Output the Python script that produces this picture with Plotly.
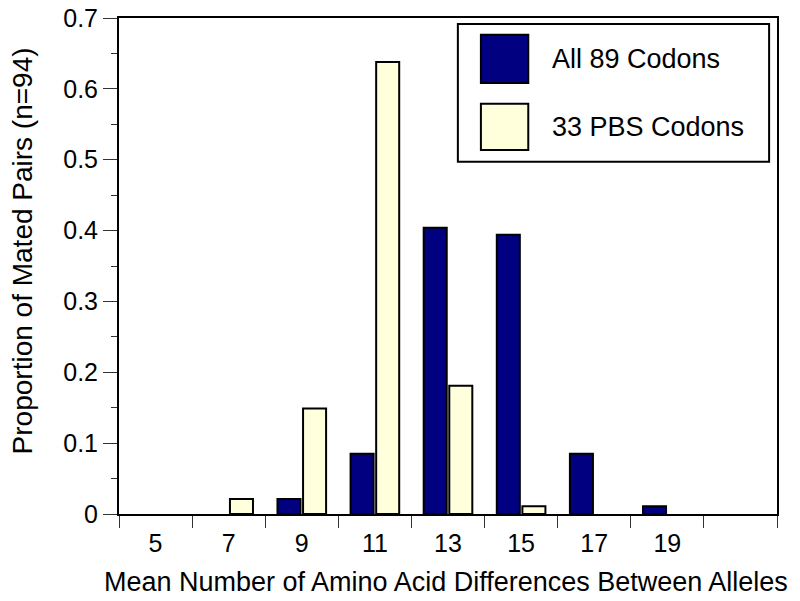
import plotly.graph_objects as go

# mean number of amino acid differences (bin centres)
bins = [5, 7, 9, 11, 13, 15, 17, 19, 21]
tick_labels = ["5", "7", "9", "11", "13", "15", "17", "19"]

series_names = ["All 89 Codons", "33 PBS Codons"]
all_codons = [0, 0, 0.021, 0.085, 0.404, 0.394, 0.085, 0.011, 0]
pbs_codons = [0, 0.021, 0.149, 0.638, 0.181, 0.011, 0, 0, 0]

colors = ["#000080", "#FFFFDC"]
font = "Liberation Sans, Arial, Helvetica, sans-serif"

fig = go.Figure()
for name, vals, col in zip(series_names, [all_codons, pbs_codons], colors):
    fig.add_trace(go.Bar(
        x=bins, y=[v if v > 0 else None for v in vals], name=name,
        marker=dict(color=col, line=dict(color="black", width=2)),
        showlegend=False,
    ))

# page body has an 8px margin, so the figure is shrunk by that much
fig.update_layout(
    width=792, height=593,
    margin=dict(l=111, r=23, t=10, b=87),
    plot_bgcolor="white", paper_bgcolor="white",
    barmode="group", bargap=0.3, bargroupgap=0.1,
    font=dict(family=font, size=25, color="black"),
)

fig.update_xaxes(
    range=[4, 22], automargin=False,
    tickvals=bins[:len(tick_labels)], ticktext=tick_labels,
    ticks="outside", ticklen=6, tickcolor="rgba(0,0,0,0)",
    showline=True, linecolor="black", linewidth=2, mirror=True,
    showgrid=False, zeroline=False,
    tickfont=dict(size=25), ticklabeloverflow="allow",
    minor=dict(tick0=4, dtick=2, ticks="outside", ticklen=12,
               tickcolor="#333", tickwidth=1, showgrid=False),
)
fig.update_yaxes(
    range=[0, 0.7], dtick=0.1, automargin=False,
    ticks="outside", ticklen=14, tickcolor="#333", tickwidth=1,
    showline=True, linecolor="black", linewidth=2, mirror=True,
    showgrid=False, zeroline=False,
    tickfont=dict(size=25), ticklabeloverflow="allow",
    minor=dict(dtick=0.05, ticks="outside", ticklen=6,
               tickcolor="#333", tickwidth=1, showgrid=False),
)

# axis titles
fig.add_annotation(text="Mean Number of Amino Acid Differences Between Alleles",
                   xref="paper", yref="paper", x=0.497, y=-0.137,
                   showarrow=False, xanchor="center", yanchor="middle",
                   font=dict(size=27))
fig.add_annotation(text="Proportion of Mated Pairs (n=94)",
                   xref="paper", yref="paper", x=-0.147, y=0.53,
                   showarrow=False, textangle=-90,
                   xanchor="center", yanchor="middle",
                   font=dict(size=28))

# legend drawn by hand (large swatches)
fig.add_shape(type="rect", xref="paper", yref="paper",
              x0=0.515, x1=0.988, y0=0.710, y1=0.988,
              line=dict(color="black", width=2), fillcolor="white")
swatch_y = [(0.869, 0.966), (0.734, 0.827)]
for name, col, (y0, y1) in zip(series_names, colors, swatch_y):
    fig.add_shape(type="rect", xref="paper", yref="paper",
                  x0=0.550, x1=0.622, y0=y0, y1=y1,
                  line=dict(color="black", width=2), fillcolor=col)
    fig.add_annotation(text=name, xref="paper", yref="paper",
                       x=0.655, y=(y0 + y1) / 2, showarrow=False,
                       xanchor="left", yanchor="middle",
                       font=dict(size=27))

fig.write_html("out.html")
